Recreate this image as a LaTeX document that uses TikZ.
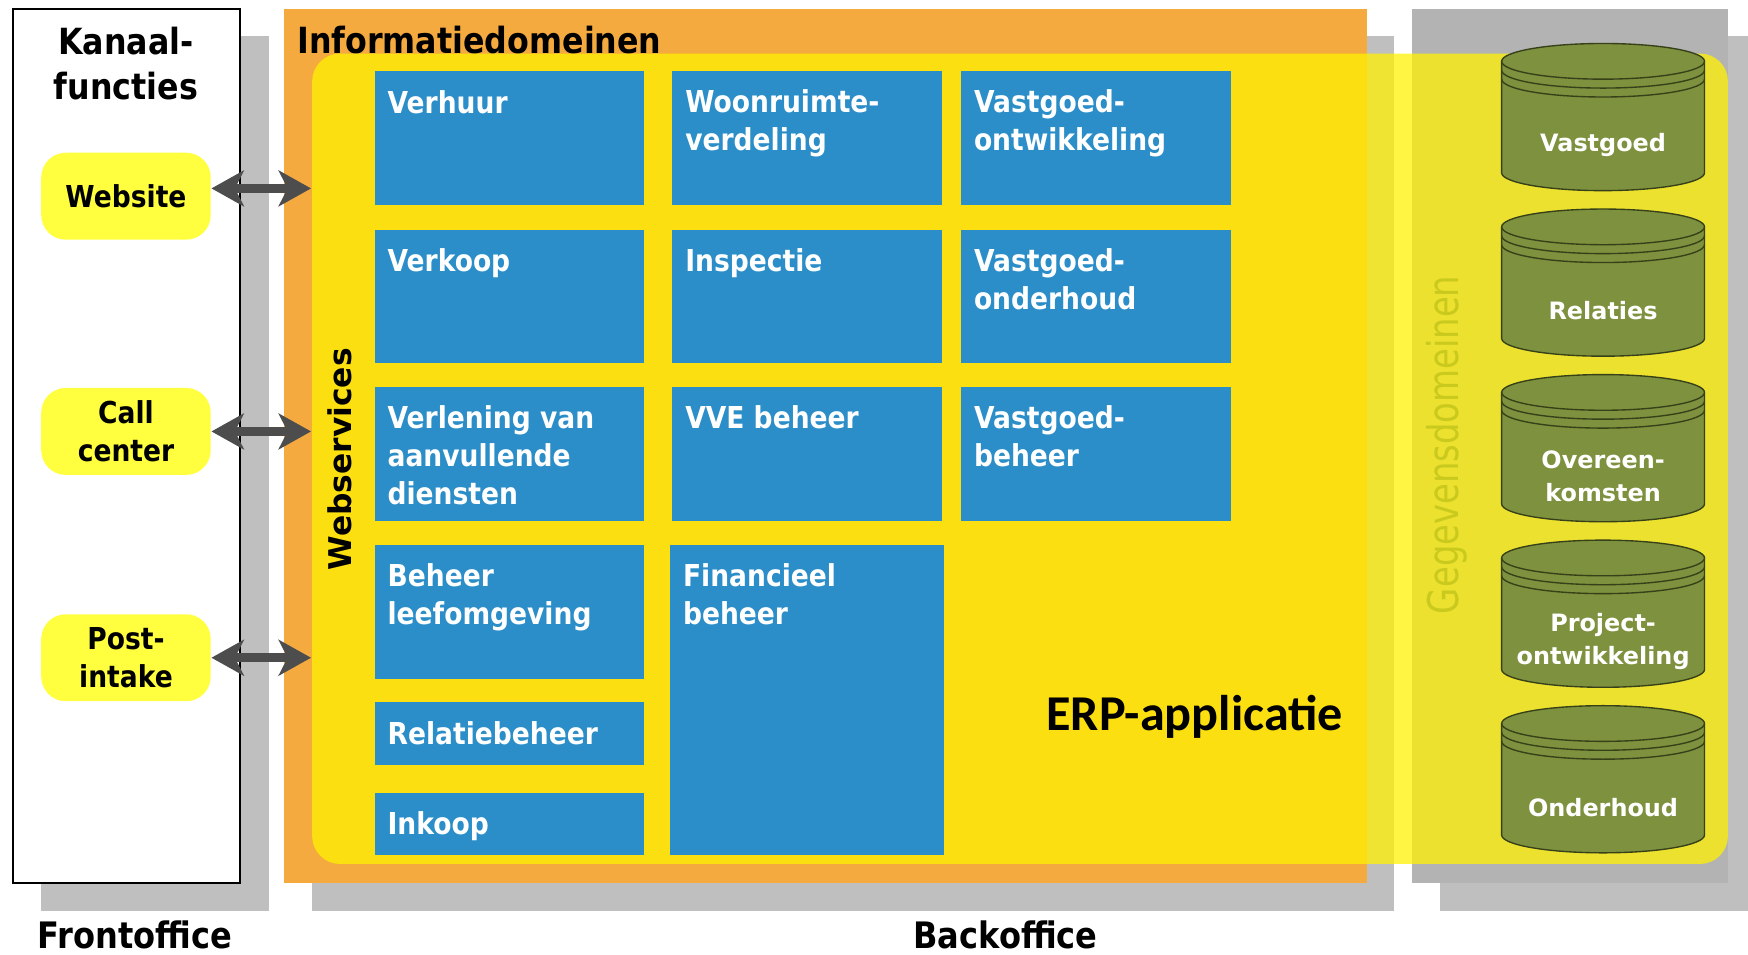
\documentclass[tikz,border=0pt]{standalone}
\usepackage{fontspec}
\setmainfont{DejaVu Sans}[FakeStretch=0.88]
\newfontfamily\breedfont{DejaVu Sans}
\newfontfamily\smalfont{DejaVu Sans}[FakeStretch=0.8]
\newfontfamily\erpfont{Carlito}
\usetikzlibrary{arrows.meta}
\definecolor{blauw}{RGB}{43,142,200}
\definecolor{oranje}{RGB}{244,170,62}
\definecolor{schaduw}{RGB}{191,191,191}
\definecolor{grijs}{RGB}{179,179,179}
\definecolor{kanaalgeel}{RGB}{255,255,64}
\definecolor{olijf}{RGB}{126,145,62}
\definecolor{olijfrand}{RGB}{55,65,25}
\definecolor{pijlgrijs}{RGB}{77,77,77}
\definecolor{gegevensgeel}{RGB}{202,202,30}
\tikzset{
  domein/.style={anchor=north west,inner sep=0,align=left,text=white,
    execute at begin node=\strut,
    font=\bfseries\fontsize{7.7pt}{9.67pt}\selectfont},
  kanaal/.style={fill=kanaalgeel,rounded corners=2.2mm,minimum width=15.2mm,
    minimum height=7.8mm,inner sep=0,align=center,
    font=\bfseries\fontsize{7.7pt}{9.67pt}\selectfont},
  pijlen/.style={{Stealth[length=2.9mm,width=3.2mm,inset=0.8mm]}-{Stealth[length=2.9mm,width=3.2mm,inset=0.8mm]},
    line width=0.8mm,pijlgrijs},
  cilinder/.style={fill=olijf,draw=olijfrand,line width=0.35pt},
  cillabel/.style={align=center,inner sep=0,text=white,
    font=\breedfont\bfseries\fontsize{6.1pt}{8.5pt}\selectfont},
  kop/.style={inner sep=0,align=center,font=\bfseries\fontsize{9.2pt}{11.67pt}\selectfont}
}
\begin{document}
\begin{tikzpicture}[x=0.1mm,y=-0.1mm]
\useasboundingbox (0,0) rectangle (1568,856);
\fill[white] (0,0) rectangle (1568,856);
% schaduwen
\fill[schaduw] (37,32) rectangle (241,817);
\fill[schaduw] (280,32) rectangle (1250,817);
\fill[schaduw] (1292,32) rectangle (1568,817);
% frontoffice
\draw[line width=0.2mm,fill=white] (12,8) rectangle (215,792);
\node[kop] (kanaal) at (113,57) {Kanaal-\\functies};
\node[kanaal] (website) at (113,176) {Website};
\node[kanaal] (callcenter) at (113,387) {Call\\center};
\node[kanaal] (postintake) at (113,590) {Post-\\intake};
% backoffice
\fill[oranje] (255,8) rectangle (1226,792);
\fill[grijs] (1267,8) rectangle (1550,792);
\node[anchor=base west,inner sep=0,font=\bfseries\fontsize{9.2pt}{11pt}\selectfont] (info) at (266,48) {Informatiedomeinen};
\fill[yellow,fill opacity=0.74,rounded corners=2.5mm] (280,48) rectangle (1550,775);
\coordinate (ws) at (279,412);
\node[rotate=90,inner sep=0,font=\breedfont\bfseries\fontsize{8pt}{9pt}\selectfont] (webservices) at (305,412) {Webservices};
\node[rotate=90,inner sep=0,text=gegevensgeel,font=\smalfont\fontsize{10.8pt}{12pt}\selectfont] (gegevens) at (1298,399) {Gegevensdomeinen};
\node[anchor=base west,inner sep=0,font=\erpfont\bfseries\fontsize{12.8pt}{14pt}\selectfont] (erp) at (938,655) {ERP-applicatie};
% informatiedomeinen
\begin{scope}[blauw]
\fill (336,64) rectangle (578,184);
\fill (603,64) rectangle (845,184);
\fill (862,64) rectangle (1104,184);
\fill (336,206) rectangle (578,326);
\fill (603,206) rectangle (845,326);
\fill (862,206) rectangle (1104,326);
\fill (336,347) rectangle (578,467);
\fill (603,347) rectangle (845,467);
\fill (862,347) rectangle (1104,467);
\fill (336,489) rectangle (578,609);
\fill (336,630) rectangle (578,686);
\fill (336,711) rectangle (578,767);
\fill (601,489) rectangle (847,767);
\end{scope}
\node[domein] (verhuur) at (347,77) {Verhuur};
\node[domein] (woonruimte) at (614,80) {Woonruimte-\\verdeling};
\node[domein] (vgontw) at (873,80) {Vastgoed-\\ontwikkeling};
\node[domein] (verkoop) at (347,219) {Verkoop};
\node[domein] (inspectie) at (614,219) {Inspectie};
\node[domein] (vgond) at (873,222) {Vastgoed-\\onderhoud};
\node[domein] (verlening) at (347,363) {Verlening van\\aanvullende\\diensten};
\node[domein] (vve) at (614,360) {VVE beheer};
\node[domein] (vgbeheer) at (873,363) {Vastgoed-\\beheer};
\node[domein] (leefomg) at (347,505) {Beheer\\leefomgeving};
\node[domein] (relatie) at (347,643) {Relatiebeheer};
\node[domein] (inkoop) at (347,724) {Inkoop};
\node[domein] (financieel) at (612,505) {Financieel\\beheer};
% gegevensdomeinen
\foreach \yt/\naam/\tekst in {55/vastgoed/Vastgoed,203.5/relaties/Relaties,
  352/overeenkomsten/{Overeen-\\komsten},500.5/project/{Project-\\ontwikkeling},649/onderhoud/Onderhoud}{
  \filldraw[cilinder] (1347,\yt) -- (1347,\yt+100) arc[start angle=180,end angle=0,x radius=91,y radius=16]
    -- (1529,\yt) arc[start angle=0,end angle=-180,x radius=91,y radius=16] -- cycle;
  \draw[olijfrand,line width=0.35pt] (1347,\yt) arc[start angle=180,end angle=0,x radius=91,y radius=16];
  \draw[olijfrand,line width=0.35pt] (1347,\yt+8) arc[start angle=180,end angle=0,x radius=91,y radius=16];
  \draw[olijfrand,line width=0.35pt] (1347,\yt+16) arc[start angle=180,end angle=0,x radius=91,y radius=16];
  \node[cillabel] (\naam) at (1438,\yt+75) {\tekst};
}
% koppelingen
\draw[pijlen] ([yshift=0.7mm]website.east) -- ([yshift=0.7mm]website.east -| ws);
\draw[pijlen] (callcenter) -- (callcenter -| ws);
\draw[pijlen] (postintake) -- (postintake -| ws);
\node[inner sep=0,font=\bfseries\fontsize{9.3pt}{11pt}\selectfont] (front) at (121,839) {Frontoffice};
\node[inner sep=0,font=\bfseries\fontsize{9.3pt}{11pt}\selectfont] (back) at (902,839) {Backoffice};
\end{tikzpicture}
\end{document}
